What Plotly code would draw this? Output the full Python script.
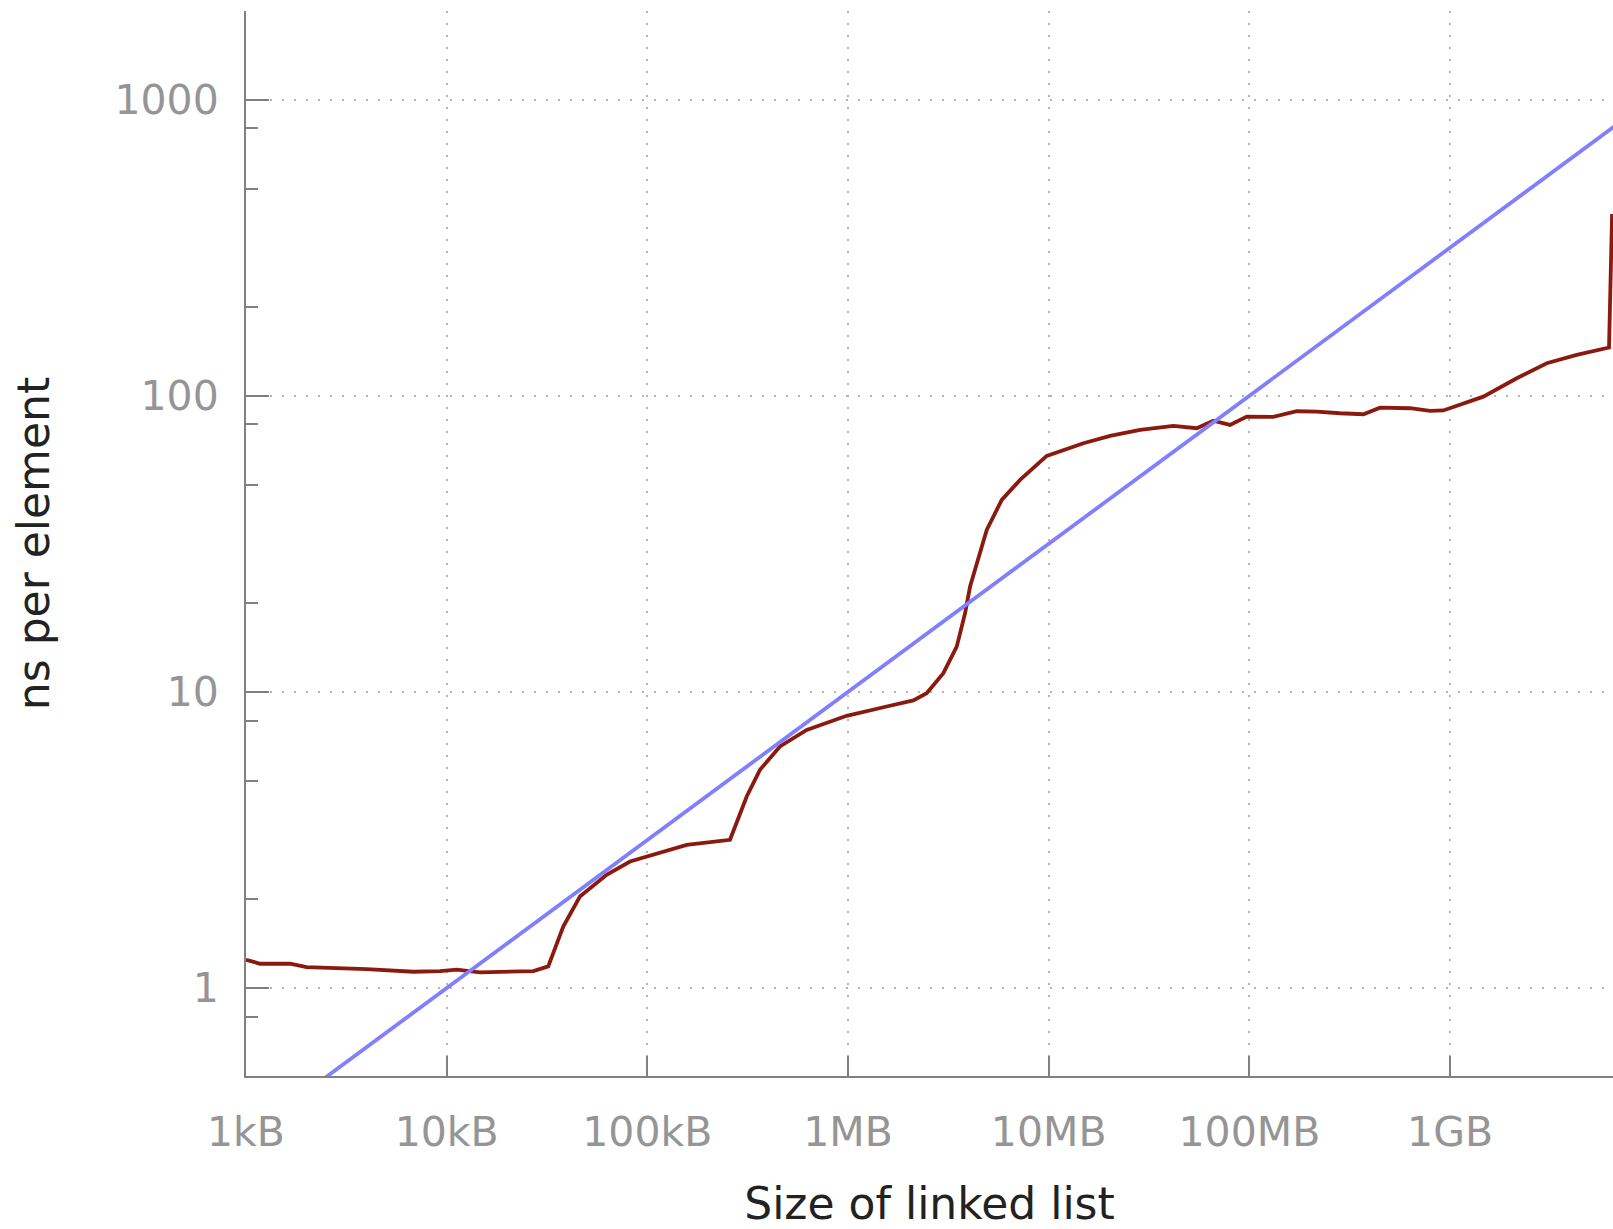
import plotly.graph_objects as go

# ---- data ----
size_bytes = [1000, 1175, 1656, 2005, 3990, 6823, 9270, 11220, 14660, 27040,
              32060, 38100, 46130, 62660, 81970, 99340, 157100, 258200, 312700, 364000,
              458000, 622400, 984400, 1.559e6, 2.115e6, 2.466e6, 2.985e6, 3.481e6, 3.831e6, 4.057e6,
              4.461e6, 4.911e6, 5.834e6, 7.198e6, 9.776e6, 1.489e7, 2.023e7, 2.853e7, 4.180e7, 5.470e7,
              6.613e7, 8.010e7, 9.705e7, 1.316e8, 1.722e8, 2.166e8, 2.830e8, 3.700e8, 4.478e8, 6.321e8,
              7.948e8, 9.253e8, 1.465e9, 2.150e9, 3.033e9, 4.279e9, 6.197e9, 6.42e9]
ns_per_element = [1.246, 1.208, 1.208, 1.177, 1.159, 1.135, 1.141, 1.153, 1.129, 1.141,
                  1.183, 1.614, 2.038, 2.412, 2.675, 2.781, 3.045, 3.167, 4.433, 5.455,
                  6.540, 7.443, 8.301, 8.924, 9.363, 9.901, 11.57, 14.22, 18.44, 22.68,
                  28.62, 35.24, 44.48, 51.95, 62.62, 69.10, 73.14, 76.63, 79.05, 77.66,
                  82.38, 79.68, 84.98, 84.79, 88.62, 88.35, 87.26, 86.58, 91.14, 90.72,
                  88.84, 89.18, 99.27, 114.5, 128.7, 137.3, 145.5, 410.8]

# reference line (sqrt growth) endpoints
ref_x = [1000, 1e10]
ref_y = [0.3162, 1000]

x_tickvals = [1e3, 1e4, 1e5, 1e6, 1e7, 1e8, 1e9]
x_ticktext = ["1kB", "10kB", "100kB", "1MB", "10MB", "100MB", "1GB"]
y_tickvals = [1, 10, 100, 1000]
y_ticktext = ["1", "10", "100", "1000"]
y_minor = [0.8, 2, 5, 8, 20, 50, 80, 200, 500, 800]

AX = "#808080"
GRID = "#b4b4b4"
TICKFONT = dict(family="DejaVu Sans", size=41, color="#959595")
TITLEFONT = dict(family="DejaVu Sans", size=44, color="#222222")

fig = go.Figure()
fig.add_trace(go.Scatter(x=size_bytes, y=ns_per_element, mode="lines",
                         line=dict(color="#8b1a0e", width=3.8), showlegend=False))
fig.add_trace(go.Scatter(x=ref_x, y=ref_y, mode="lines",
                         line=dict(color="#8080ff", width=3.8), showlegend=False))

fig.update_layout(
    width=1613, height=1229,
    margin=dict(l=246, r=0, t=11, b=153),
    paper_bgcolor="white", plot_bgcolor="white",
    showlegend=False,
    xaxis=dict(
        type="log", range=[3, 9.812],
        tickvals=x_tickvals, ticktext=x_ticktext,
        ticks="inside", ticklen=20, tickwidth=2, tickcolor=AX,
        showline=True, linecolor=AX, linewidth=2, mirror=False,
        showgrid=True, gridcolor=GRID, gridwidth=1.5, griddash="2px,10px",
        zeroline=False, tickfont=TICKFONT, ticklabelstandoff=19,
        automargin=False,
        title=dict(text="Size of linked list", font=TITLEFONT, standoff=37),
    ),
    yaxis=dict(
        type="log", range=[-0.297, 3.299],
        tickvals=y_tickvals, ticktext=y_ticktext,
        ticks="inside", ticklen=23, tickwidth=2, tickcolor=AX,
        showline=True, linecolor=AX, linewidth=2, mirror=False,
        showgrid=True, gridcolor=GRID, gridwidth=1.5, griddash="2px,10px",
        zeroline=False, tickfont=TICKFONT, ticklabelstandoff=17,
        minor=dict(tickvals=y_minor, ticks="inside", ticklen=12, tickwidth=2,
                   tickcolor=AX, showgrid=False),
        automargin=False,
        title=dict(text="ns per element", font=TITLEFONT, standoff=51),
    ),
)

fig.write_html("out.html", config={"displayModeBar": False},
               post_script="document.body.style.margin='0';document.body.style.overflow='hidden';")
